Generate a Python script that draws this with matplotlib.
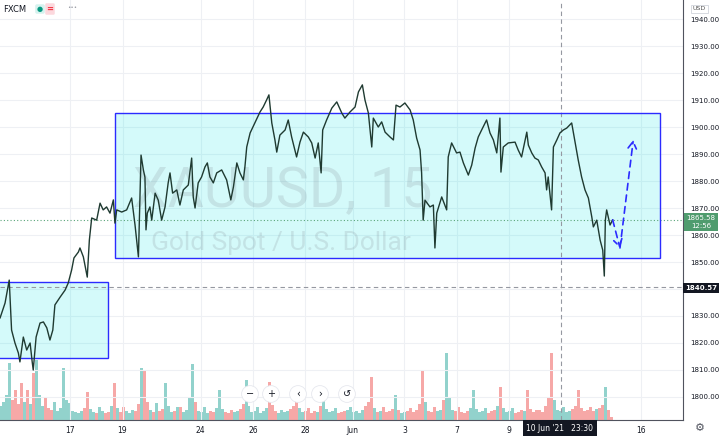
import numpy as np
import matplotlib.pyplot as plt
import matplotlib.patches as mpatches

# price path (trading days from 17 May, gold spot price)
t_days = [-2.69, -2.50, -2.34, -2.25, -2.12, -1.99, -1.93, -1.80, -1.67, -1.54,
          -1.46, -1.42, -1.31, -1.16, -1.03, -0.90, -0.78, -0.67, -0.59, -0.39,
          -0.20, -0.08, 0.05, 0.14, 0.31, 0.37, 0.50, 0.65, 0.73, 0.82,
          1.01, 1.14, 1.26, 1.39, 1.52, 1.65, 1.71, 1.78, 1.97, 2.16,
          2.35, 2.48, 2.61, 2.71, 2.80, 2.86, 2.90, 2.95, 3.05, 3.12,
          3.25, 3.37, 3.50, 3.63, 3.75, 3.82, 3.92, 4.08, 4.20, 4.33,
          4.52, 4.65, 4.71, 4.78, 4.90, 5.03, 5.16, 5.25, 5.35, 5.48,
          5.61, 5.80, 5.99, 6.15, 6.25, 6.38, 6.50, 6.63, 6.69, 6.76,
          6.89, 7.27, 7.39, 7.52, 7.61, 7.72, 7.84, 7.91, 8.03, 8.23,
          8.35, 8.48, 8.67, 8.80, 8.93, 9.12, 9.25, 9.38, 9.50, 9.61,
          9.67, 9.82, 10.02, 10.21, 10.40, 10.52, 10.72, 10.91, 11.04, 11.19,
          11.29, 11.42, 11.55, 11.61, 11.80, 11.93, 12.06, 12.25, 12.38, 12.48,
          12.63, 12.82, 13.02, 13.14, 13.27, 13.40, 13.46, 13.52, 13.59, 13.78,
          13.91, 13.97, 14.04, 14.23, 14.42, 14.48, 14.61, 14.80, 14.93, 15.06,
          15.25, 15.38, 15.51, 15.63, 15.76, 15.95, 16.08, 16.21, 16.34, 16.46,
          16.50, 16.59, 16.78, 17.04, 17.16, 17.29, 17.49, 17.55, 17.68, 17.80,
          17.93, 18.06, 18.19, 18.25, 18.31, 18.44, 18.51, 18.64, 18.76, 18.89,
          19.02, 19.21, 19.34, 19.46, 19.59, 19.72, 19.85, 19.98, 20.04, 20.17,
          20.30, 20.40, 20.46, 20.50, 20.55, 20.68, 20.78]
price = [1829.3, 1834.8, 1843.3, 1824.8, 1820.0, 1816.3, 1813.0, 1822.2, 1817.4, 1820.0,
         1813.0, 1810.0, 1822.2, 1827.4, 1827.8, 1825.6, 1821.1, 1824.8, 1834.1, 1837.0,
         1839.6, 1842.2, 1847.0, 1851.5, 1853.7, 1855.2, 1851.9, 1844.4, 1858.1, 1866.3,
         1865.5, 1871.8, 1869.3, 1870.4, 1868.1, 1873.0, 1864.4, 1869.3, 1868.5, 1869.3,
         1873.7, 1863.7, 1851.9, 1889.6, 1884.1, 1881.4, 1861.9, 1868.1, 1870.4, 1865.5,
         1875.5, 1872.9, 1865.5, 1870.4, 1879.3, 1883.0, 1875.5, 1876.7, 1871.1, 1876.7,
         1878.5, 1888.5, 1874.1, 1870.0, 1879.3, 1881.5, 1885.2, 1886.7, 1881.5, 1879.3,
         1883.0, 1884.1, 1880.4, 1873.0, 1877.8, 1886.7, 1883.0, 1880.4, 1885.2, 1892.6,
         1897.8, 1905.6, 1907.4, 1910.0, 1911.9, 1901.5, 1895.2, 1890.7, 1897.0, 1898.9,
         1902.6, 1896.3, 1888.9, 1894.4, 1898.1, 1896.3, 1894.1, 1888.5, 1894.1, 1883.0,
         1898.9, 1902.6, 1907.0, 1909.3, 1905.2, 1903.3, 1905.6, 1907.4, 1913.0, 1915.6,
         1910.0, 1905.2, 1892.6, 1903.3, 1900.0, 1901.9, 1898.1, 1896.3, 1895.2, 1908.1,
         1907.4, 1908.9, 1906.3, 1902.6, 1895.9, 1891.5, 1883.0, 1865.5, 1872.9, 1870.4,
         1871.1, 1855.2, 1868.1, 1874.1, 1869.3, 1888.9, 1894.1, 1890.4, 1890.7, 1886.7,
         1882.2, 1885.9, 1892.2, 1896.3, 1898.9, 1902.6, 1897.8, 1895.2, 1890.4, 1903.3,
         1883.3, 1892.6, 1894.1, 1894.4, 1891.5, 1888.9, 1898.1, 1893.3, 1890.4, 1888.5,
         1887.8, 1885.2, 1883.0, 1876.7, 1881.5, 1869.3, 1892.6, 1895.2, 1897.8, 1898.9,
         1899.6, 1901.5, 1894.4, 1887.8, 1881.5, 1876.7, 1873.7, 1866.7, 1863.0, 1865.5,
         1858.1, 1854.4, 1844.8, 1865.5, 1869.3, 1863.7, 1865.58]

# volume per ~2.75h bucket starting at left edge
vol_start = -2.69
vol_step = 0.1149
volume = [14, 18, 25, 57, 20, 30, 16, 37, 18, 30,
          16, 47, 60, 25, 14, 23, 12, 10, 18, 9,
          12, 52, 20, 17, 9, 8, 7, 9, 12, 28,
          11, 8, 7, 13, 9, 7, 8, 14, 37, 12,
          8, 13, 9, 7, 10, 9, 16, 52, 50, 18,
          10, 8, 17, 9, 11, 37, 14, 8, 9, 13,
          13, 8, 10, 22, 56, 18, 9, 8, 13, 7,
          9, 8, 12, 30, 11, 8, 7, 10, 8, 9,
          11, 16, 40, 14, 8, 9, 13, 7, 9, 12,
          38, 15, 9, 7, 10, 8, 9, 11, 14, 28,
          12, 8, 9, 12, 7, 9, 8, 14, 27, 11,
          8, 9, 12, 7, 8, 9, 10, 13, 8, 9,
          7, 10, 14, 18, 43, 12, 8, 9, 13, 8,
          9, 11, 25, 10, 7, 8, 9, 12, 8, 10,
          16, 50, 18, 9, 8, 13, 9, 10, 20, 67,
          22, 10, 9, 13, 8, 7, 9, 12, 30, 11,
          8, 9, 12, 7, 9, 10, 14, 33, 12, 8,
          9, 12, 7, 8, 10, 9, 30, 11, 8, 10,
          10, 8, 14, 22, 67, 20, 10, 9, 13, 8,
          9, 11, 14, 30, 12, 9, 10, 13, 9, 11,
          12, 15, 33, 10, 3]

day_ticks = [0, 2, 5, 7, 9, 10.82, 12.8, 14.81, 16.8, 21.87]
day_labels = ['17', '19', '24', '26', '28', 'Jun', '3', '7', '9', '16']
price_ticks = list(range(1800, 1941, 10))

# rectangles: (start day, end day, low, high)
boxes = [(-3.0, 1.46, 1814.3, 1842.7), (1.71, 22.6, 1851.6, 1905.3)]
# projected path drawn with the dashed arrow
proj_t = [20.78, 21.06, 21.57]
proj_p = [1865.6, 1855.2, 1895.2]

last_price = 1865.58
cross_t = 18.80
cross_price = 1840.57

fig = plt.figure(figsize=(7.2, 4.36), dpi=100)
ax = fig.add_axes([0, 16/436, 683/720, 420/436])
ax2 = ax.twinx()
ax.set_zorder(2)
ax.patch.set_visible(False)

ax.set_xlim(-2.6935, 23.475)
ax.set_ylim(1791.48, 1947.04)

# volume
vt = vol_start + vol_step*np.arange(len(volume))
pv = np.interp(vt, t_days, price)
pv_prev = np.interp(vt - vol_step, t_days, price)
vcol = ['#26a69a' if a >= b else '#ef5350' for a, b in zip(pv, pv_prev)]
ax2.bar(vt, volume, width=vol_step, color=vcol, alpha=0.5, linewidth=0)
ax2.set_ylim(0, 420)
ax2.set_axis_off()

ax.grid(True, color='#eef0f4', lw=0.8)
ax.set_axisbelow(True)

for t0, t1, lo, hi in boxes:
    ax.add_patch(mpatches.Rectangle((t0, lo), t1-t0, hi-lo, facecolor='#00e5e5', alpha=0.17, lw=0, zorder=1))
    ax.add_patch(mpatches.Rectangle((t0, lo), t1-t0, hi-lo, facecolor='none', edgecolor='#2b2bff', lw=1.0, zorder=3))

ax.text(283/683, 1-207/420, 'XAUUSD, 15', transform=ax.transAxes, ha='center', va='baseline',
        fontsize=40, family='Roboto', color='#787b86', alpha=0.18, zorder=1.5)
ax.text(281/683, 1-250/420, 'Gold Spot / U.S. Dollar', transform=ax.transAxes, ha='center', va='baseline',
        fontsize=19, family='Roboto', color='#787b86', alpha=0.18, zorder=1.5)

ax.axhline(last_price, color='#5aa57a', ls=(0, (1, 2)), lw=0.8, zorder=2)
ax.axhline(cross_price, color='#9598a1', ls=(0, (4, 3)), lw=0.8, zorder=2)
ax.axvline(cross_t, color='#9598a1', ls=(0, (4, 3)), lw=0.8, zorder=2)

ax.plot(t_days, price, color='#1f3a31', lw=1.0, zorder=4)

for i in range(2):
    ax.annotate('', xy=(proj_t[i+1], proj_p[i+1]), xytext=(proj_t[i], proj_p[i]),
                arrowprops=dict(arrowstyle='->,head_length=0.5,head_width=0.3', color='#2b2bff',
                                lw=1.2, ls=(0, (4, 3)), shrinkA=0, shrinkB=0), zorder=5)

ax.yaxis.tick_right()
ax.set_yticks(price_ticks)
# 1840 is hidden behind the crosshair price label
ax.set_yticklabels(['' if p == 1840 else '%.2f' % p for p in price_ticks])
ax.set_xticks(day_ticks)
ax.set_xticklabels(day_labels)
ax.tick_params(axis='y', length=0, pad=5, labelsize=5, labelcolor='#131722')
ax.tick_params(axis='x', length=0, pad=4, labelsize=5.5, labelcolor='#131722')
for s in ['top', 'left']:
    ax.spines[s].set_visible(False)
ax.spines['right'].set_color('#50535e')
ax.spines['bottom'].set_color('#50535e')
ax.spines['right'].set_linewidth(0.8)
ax.spines['bottom'].set_linewidth(0.8)


def fx(x):
    return x/720


def fy(y):
    return 1 - y/436


# axis labels for last price and crosshair
fig.text(fx(701), fy(222), '%.2f\n12:56' % last_price, ha='center', va='center', fontsize=5,
         color='white', linespacing=1.3, bbox=dict(boxstyle='square,pad=0.3', fc='#4f9c6e', ec='none'), zorder=10)
fig.text(fx(701), fy(288), '%.2f' % cross_price, ha='center', va='center', fontsize=5, weight='bold',
         color='white', bbox=dict(boxstyle='square,pad=0.35', fc='#131722', ec='none'), zorder=10)
fig.text(fx(560), fy(428), "10 Jun '21   23:30", ha='center', va='center', fontsize=5.5,
         color='white', bbox=dict(boxstyle='square,pad=0.5', fc='#131722', ec='none'), zorder=10)

# header and widgets
fig.text(fx(3), fy(9), 'FXCM', ha='left', va='center', fontsize=6, color='#131722')
fig.text(fx(40), fy(9), '\u25CF', ha='center', va='center', fontsize=5, color='#089981',
         bbox=dict(boxstyle='round,pad=0.25', fc='#d6f2ee', ec='none'))
fig.text(fx(50), fy(9), '=', ha='center', va='center', fontsize=6, color='#f23645', weight='bold',
         bbox=dict(boxstyle='round,pad=0.15', fc='#fcd8dd', ec='none'))
fig.text(fx(72), fy(8), '\u2022\u2022\u2022', ha='center', va='center', fontsize=4, color='#9598a1')
fig.text(fx(699), fy(9), 'USD', ha='center', va='center', fontsize=4.5, color='#555',
         bbox=dict(boxstyle='square,pad=0.3', fc='white', ec='#d1d4dc', lw=0.6))
fig.text(fx(700), fy(428), '\u2699', ha='center', va='center', fontsize=8, color='#50535e')

for x, s in zip([250, 271, 298, 320, 347], ['\u2212', '+', '\u2039', '\u203A', '\u21BA']):
    fig.text(fx(x), fy(394), s, ha='center', va='center', fontsize=7, color='#131722', zorder=10,
             bbox=dict(boxstyle='circle,pad=0.35', fc='white', ec='#e6e8ee', lw=0.6))

fig.savefig('out.png', dpi=100)
